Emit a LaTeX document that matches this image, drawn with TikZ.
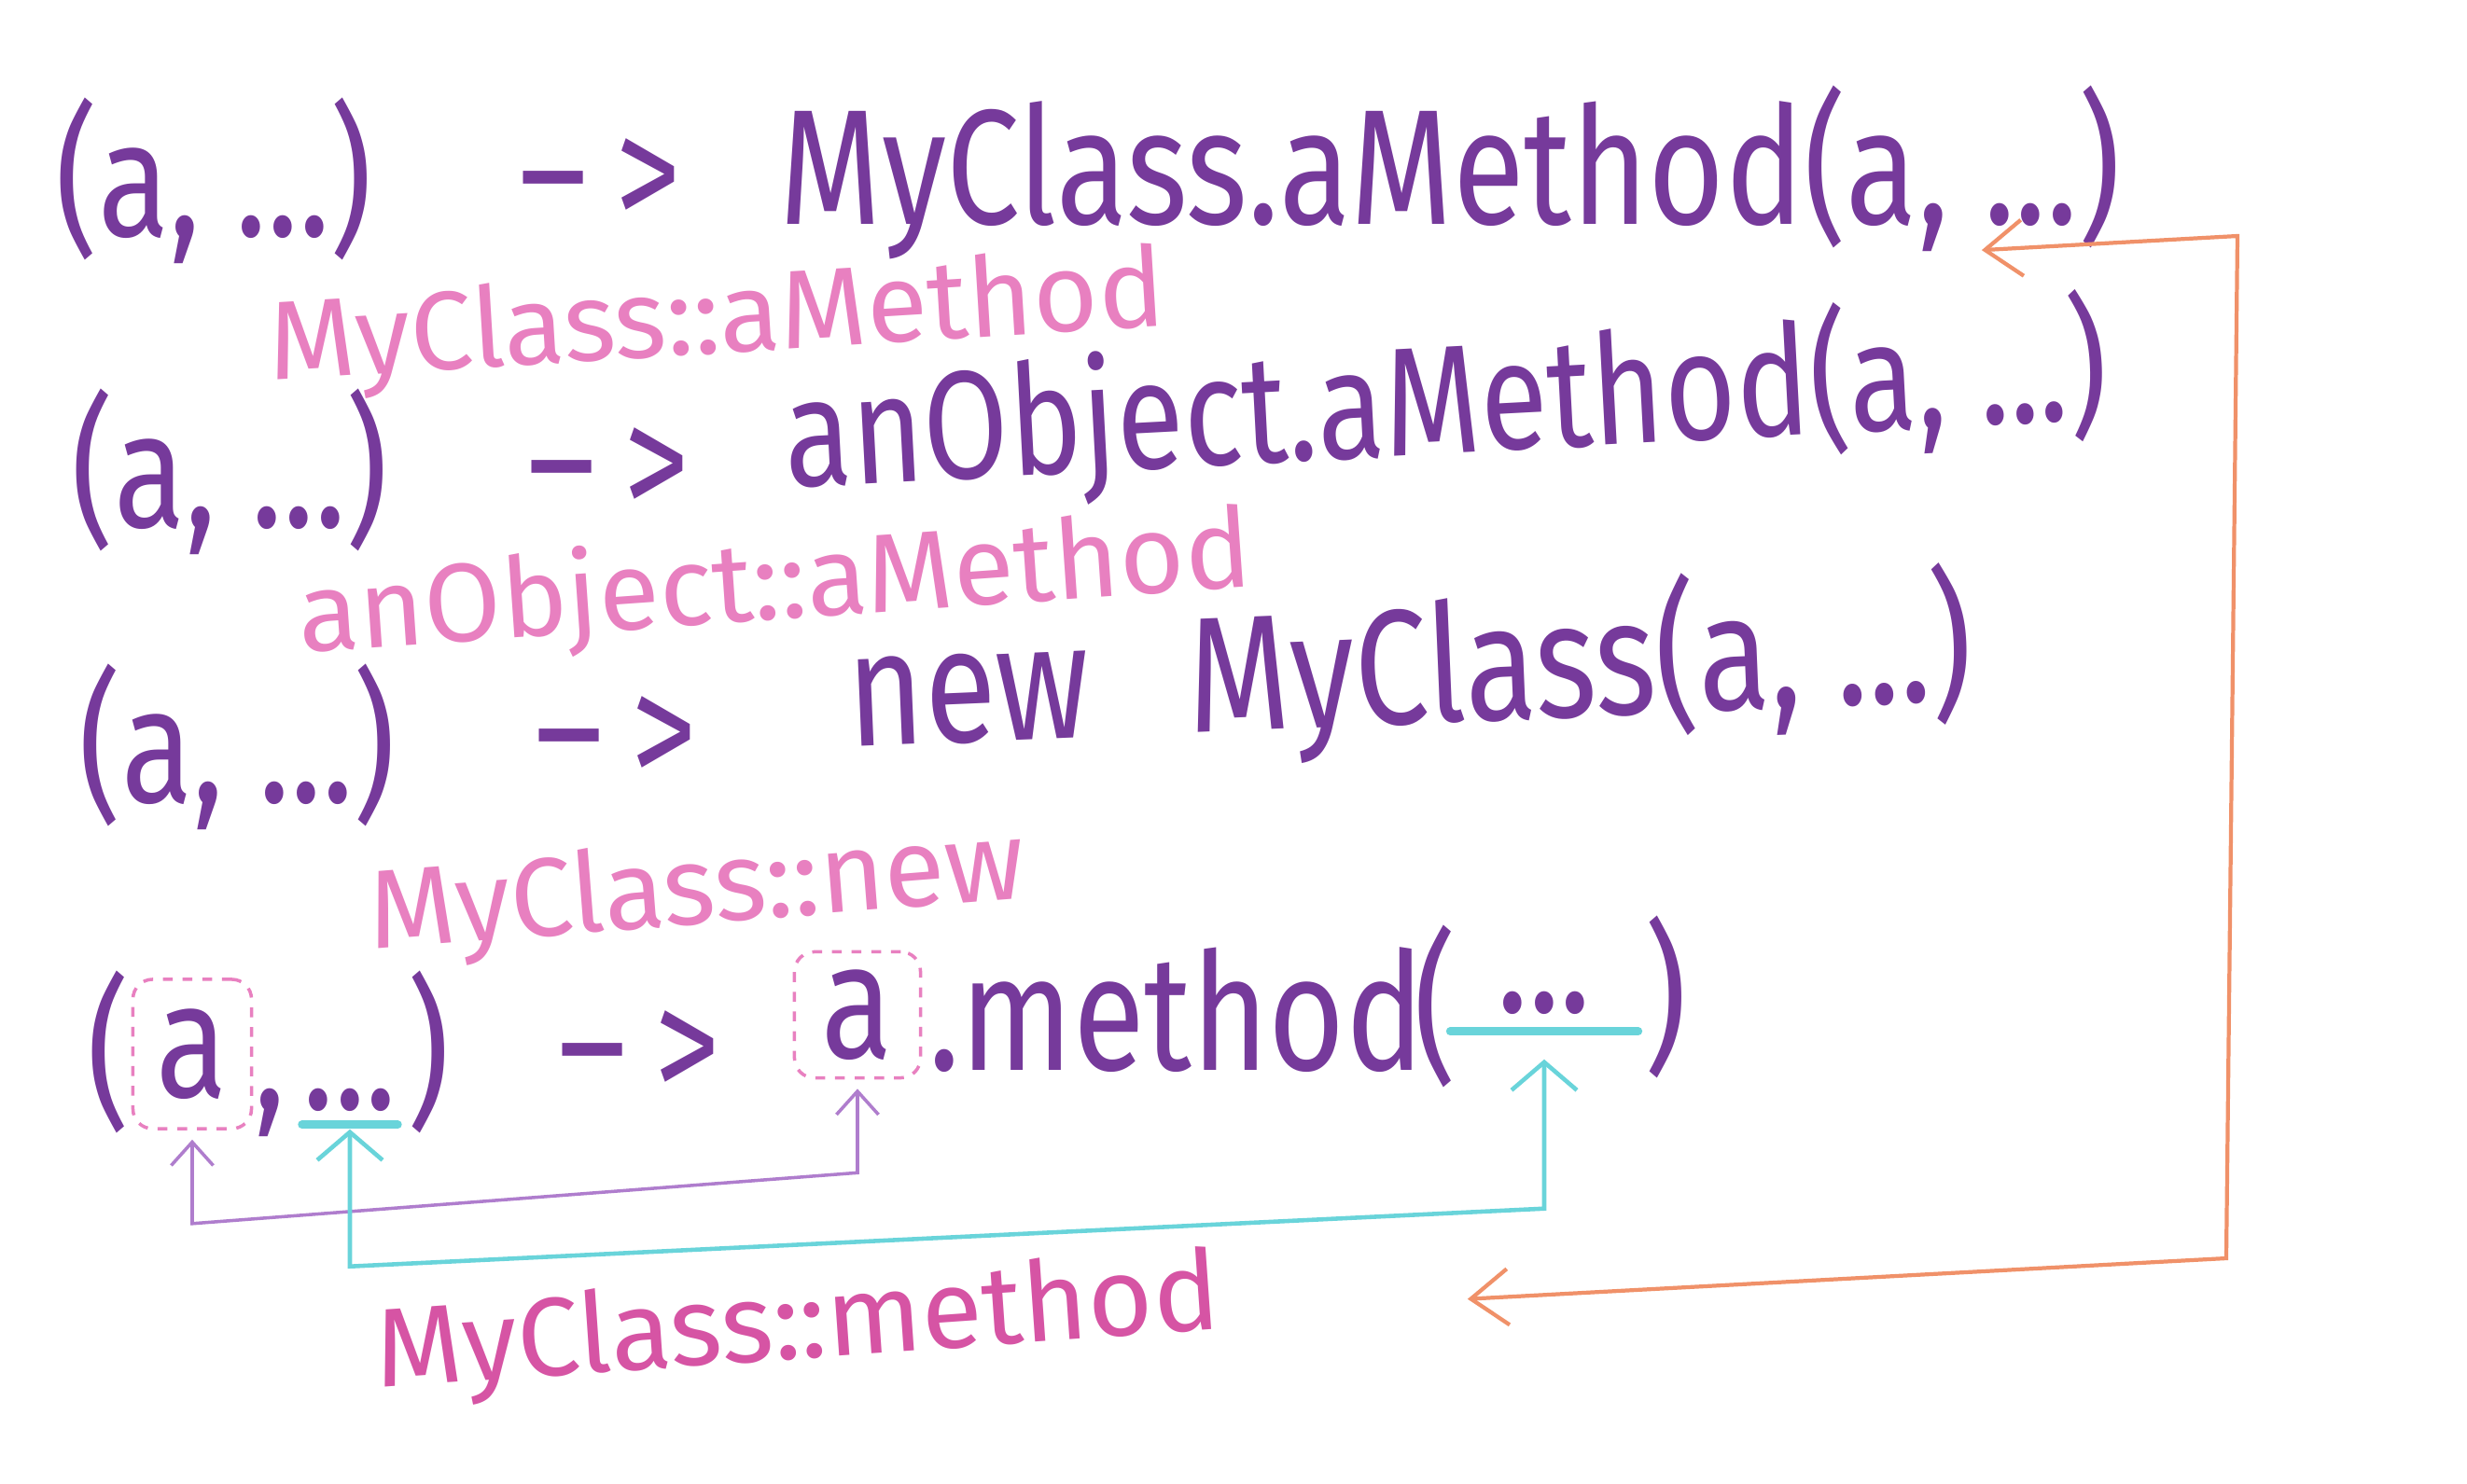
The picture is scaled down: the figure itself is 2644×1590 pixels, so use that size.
\documentclass[tikz,border=0pt]{standalone}
\usepackage{fontspec}
\usetikzlibrary{arrows.meta,calc}
\newfontfamily\handfont[FakeStretch=0.8]{Fira Sans}
\newfontfamily\notefont{Fira Sans}
\definecolor{inkpurple}{RGB}{118,58,155}
\definecolor{inkpink}{RGB}{232,128,192}
\definecolor{inkmagenta}{RGB}{214,84,164}
\definecolor{inkcyan}{RGB}{105,212,218}
\definecolor{inkorange}{RGB}{240,145,105}
\definecolor{inklilac}{RGB}{175,125,205}
\begin{document}
\begin{tikzpicture}[x=0.01cm,y=-0.01cm,
  every node/.style={inner sep=0pt, anchor=base west},
  lam/.style={text=inkpurple, font=\handfont\fontsize{50}{60}\selectfont},
  mref/.style={text=inkpink, font=\notefont\fontsize{34}{41}\selectfont},
  argbox/.style={draw=inkpink, dash pattern=on 3pt off 3pt, line width=1pt,
                 rounded corners=6pt, anchor=center},
  uline/.style={draw=inkcyan, line width=2.5pt, line cap=round},
  plink/.style={draw=inklilac, line width=1pt,
                {Straight Barb[length=2.5mm,width=4.5mm]}-{Straight Barb[length=2.5mm,width=4.5mm]},
                shorten <=1mm, shorten >=1mm},
  clink/.style={draw=inkcyan, line width=1.3pt,
                {Straight Barb[length=3mm,width=7mm]}-{Straight Barb[length=3mm,width=7mm]},
                shorten <=0.5mm, shorten >=3mm},
  olink/.style={draw=inkorange, line width=1.2pt,
                {Straight Barb[length=4mm,width=6mm]}-{Straight Barb[length=4mm,width=6mm]}}]
  \useasboundingbox (0,0) rectangle (2644,1590);
  \fill[white] (0,0) rectangle (2644,1590);
  % static method
  \node[lam] (l1) at (59,253) {(a, ...)};
  \node[lam] (a1) at (556,245) {–\,>};
  \node[lam] (m1) at (835,240) {MyClass.aMethod(a, ...)};
  \node[mref, rotate=3.5] (c1) at (290,408) {MyClass::aMethod};
  % bound instance method
  \node[lam] (l2) at (76,565) {(a, ...)};
  \node[lam] (a2) at (565,555) {–\,>};
  \node[lam, font=\handfont\fontsize{47}{56}\selectfont, rotate=3] (m2) at (843,523) {anObject.aMethod(a, ...)};
  \node[mref, rotate=4] (c2) at (322,700) {anObject::aMethod};
  % constructor
  \node[lam] (l3) at (84,860) {(a, ...)};
  \node[lam] (a3) at (573,843) {–\,>};
  \node[lam, rotate=2.4] (m3) at (910,801) {new\hspace{0.6em}MyClass(a, ...)};
  \node[mref, rotate=4.5] (c3) at (398,1018) {MyClass::new};
  % unbound instance method
  \node[lam] (r4open) at (93,1189) {(};
  \node[lam, argbox, minimum width=1.27cm, minimum height=1.6cm] (r4a) at (206,1130) {a};
  \node[lam] (r4comma) at (272,1189) {,};
  \node[lam, anchor=base, text depth=1.6mm] (r4dots) at (375,1189) {...};
  \node[lam] (r4close) at (436,1189) {)};
  \node[lam] (a4) at (598,1180) {–\,>};
  \node[lam, argbox, minimum size=1.35cm] (m4a) at (919,1088) {a};
  \node[lam] (m4name) at (995,1147) {.method};
  \node[lam] (m4open) at (1515,1140) {(};
  \node[lam, anchor=base, minimum width=2cm, text depth=2mm] (m4dots) at (1655,1085) {...};
  \node[lam] (m4close) at (1762,1130) {)};
  \node[mref, text=inkmagenta, rotate=4] (c4) at (405,1488) {MyClass::method};
  %
  \draw[uline] (r4dots.south west) -- (r4dots.south east);
  \draw[uline] (m4dots.south west) -- (m4dots.south east);
  \draw[plink] (r4a.south) -- ++(0,100) -- ($(m4a.south)+(0,100)$) -- (m4a.south);
  \draw[clink] (r4dots.south) -- ++(0,152) -- ($(m4dots.south)+(0,190)$) -- (m4dots.south);
  %
  \coordinate (otop) at ($(m1.south east)+(-150,-10)$);
  \coordinate (obot) at ($(c4.east)+(265,0)$);
  \coordinate (oturn1) at (2398,253);
  \coordinate (oturn2) at (2386,1349);
  \draw[olink] (otop) -- (oturn1) -- (oturn2) -- (obot);
\end{tikzpicture}
\end{document}
